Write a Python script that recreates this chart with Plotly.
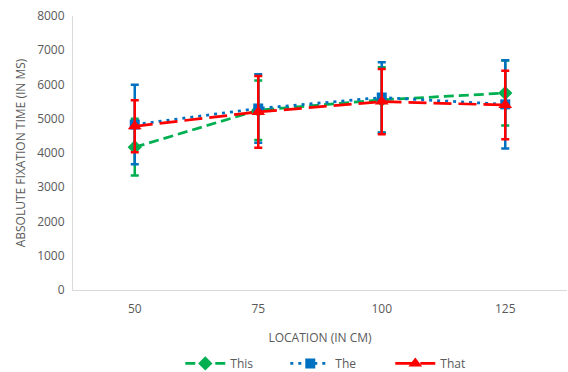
import plotly.graph_objects as go

locations = ["50", "75", "100", "125"]
this_vals = [4170, 5250, 5550, 5750]
this_err = [830, 870, 950, 950]
the_vals = [4830, 5300, 5620, 5420]
the_err = [1160, 1000, 1030, 1290]
that_vals = [4780, 5200, 5500, 5400]
that_err = [760, 1050, 950, 1000]

fig = go.Figure()
series = [
    ("This", this_vals, this_err, "#00B050", "10px,5px", "diamond", 11),
    ("The", the_vals, the_err, "#0070C0", "3px,5px", "square", 10),
    ("That", that_vals, that_err, "#FF0000", "18px,7px", "triangle-up", 12),
]
for name, vals, err, color, dash, sym, size in series:
    fig.add_trace(go.Scatter(
        x=locations, y=vals, name=name, mode="lines+markers",
        line=dict(color=color, dash=dash, width=2.75),
        marker=dict(symbol=sym, size=size, color=color),
        error_y=dict(type="data", array=err, visible=True, color=color,
                     thickness=2.5, width=4),
    ))

fig.update_layout(
    width=568, height=372,
    margin=dict(l=73, r=1, t=16, b=82),
    paper_bgcolor="white", plot_bgcolor="white",
    font=dict(family="Open Sans, Liberation Sans, sans-serif", size=12, color="#595959"),
    showlegend=True,
    legend=dict(orientation="h", x=0.536, xanchor="center", yref="container",
                y=0.023, yanchor="middle", entrywidth=50, itemwidth=40,
                font=dict(size=12, color="#595959")),
    xaxis=dict(type="category", range=[-0.5, 3.5], showgrid=False, automargin=False,
               showline=True, linecolor="#D9D9D9", linewidth=1, ticks="",
               ticklabelstandoff=8,
               title=dict(text="LOCATION (IN CM)", font=dict(size=12), standoff=17)),
    yaxis=dict(range=[0, 8000], dtick=1000, showgrid=False, zeroline=False, automargin=False,
               showline=True, linecolor="#D9D9D9", linewidth=1, ticks="",
               ticklabelstandoff=5,
               title=dict(text="ABSOLUTE FIXATION TIME (IN MS)", font=dict(size=12), standoff=8)),
)

fig.write_html("out.html", config={"displayModeBar": False},
               post_script="document.body.style.margin='0';")
